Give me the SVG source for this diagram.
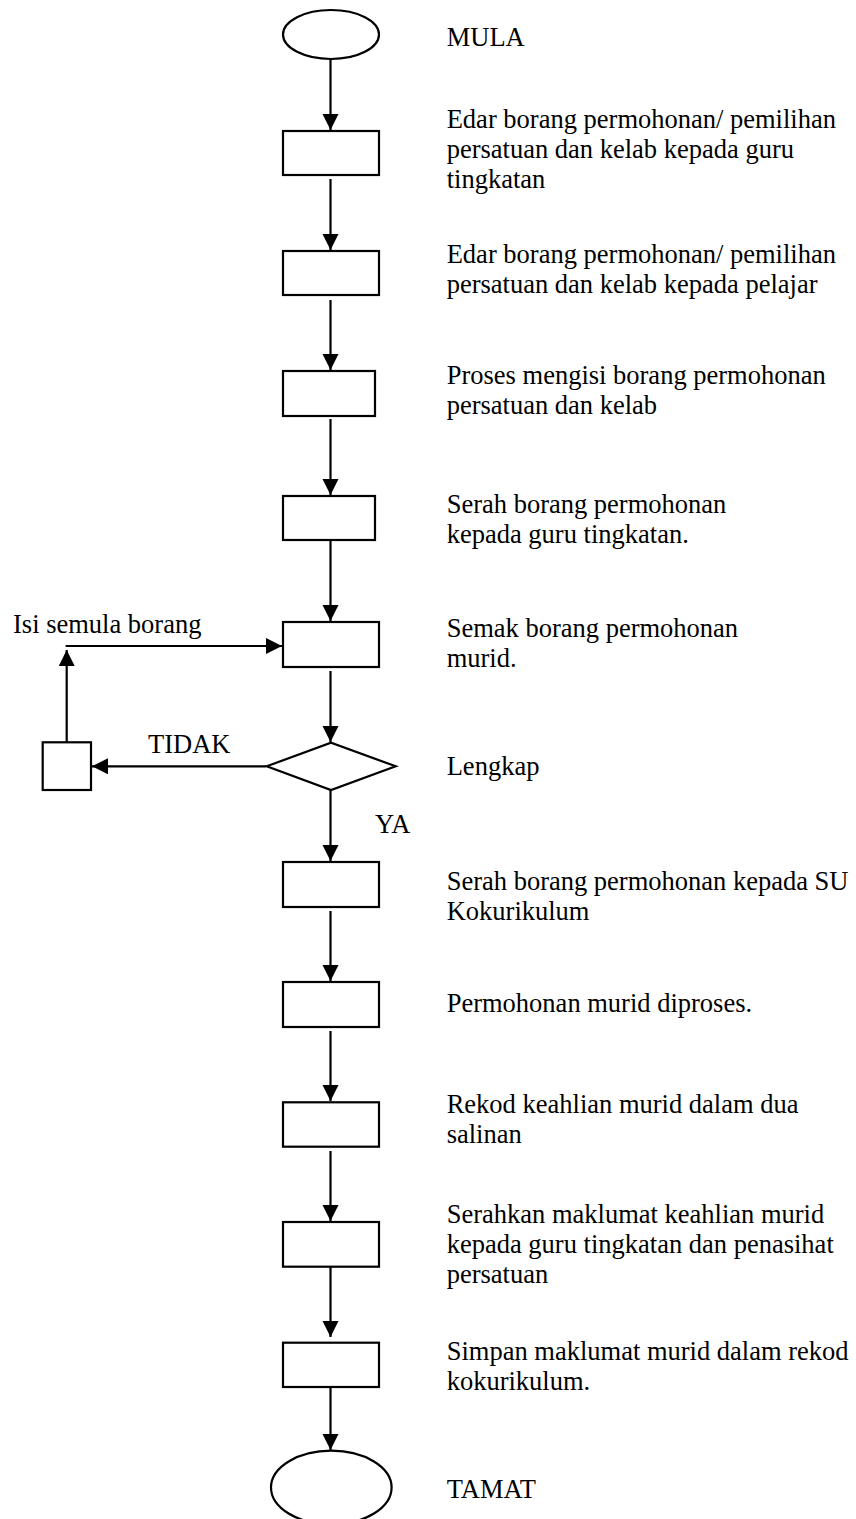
<svg xmlns="http://www.w3.org/2000/svg" width="856" height="1519" viewBox="0 0 856 1519">
  <style>
    .shape { fill: #ffffff; stroke: #000000; stroke-width: 2.2; }
    .link { fill: none; stroke: #000000; stroke-width: 2.2; marker-end: url(#arrow); }
    text { font-family: "Liberation Serif", "Times New Roman", serif; font-size: 26.5px; fill: #000000; }
  </style>
  <defs>
    <marker id="arrow" markerUnits="userSpaceOnUse" markerWidth="17" markerHeight="17" refX="16" refY="8" orient="auto">
      <path d="M0,0 L16,8 L0,16 z" fill="#000000"/>
    </marker>
  </defs>
  <rect width="856" height="1519" fill="#ffffff"/>

  <!-- connectors -->
  <g id="connectors">
    <line class="link" x1="330.5" y1="59" x2="330.5" y2="130"/>
    <line class="link" x1="330.5" y1="179" x2="330.5" y2="250"/>
    <line class="link" x1="330.5" y1="300" x2="330.5" y2="370"/>
    <line class="link" x1="330.5" y1="419" x2="330.5" y2="495"/>
    <line class="link" x1="330.5" y1="534" x2="330.5" y2="621"/>
    <line class="link" x1="330.5" y1="671" x2="330.5" y2="742"/>
    <line class="link" x1="330.5" y1="790" x2="330.5" y2="861"/>
    <line class="link" x1="330.5" y1="911" x2="330.5" y2="981"/>
    <line class="link" x1="330.5" y1="1031" x2="330.5" y2="1101"/>
    <line class="link" x1="330.5" y1="1151" x2="330.5" y2="1221"/>
    <line class="link" x1="330.5" y1="1266" x2="330.5" y2="1337"/>
    <line class="link" x1="330.5" y1="1387" x2="330.5" y2="1450"/>
    <!-- TIDAK branch -->
    <line class="link" x1="266" y1="766.3" x2="92" y2="766.3"/>
    <!-- loop back to the check step -->
    <line class="link" x1="66.7" y1="742" x2="66.7" y2="650"/>
    <line class="link" x1="65.6" y1="646" x2="282" y2="646"/>
  </g>

  <g id="start">
    <ellipse class="shape" cx="331" cy="34.5" rx="48" ry="24.5"/>
    <text x="446.7" y="46">MULA</text>
  </g>

  <g id="step1">
    <rect class="shape" x="283" y="131" width="96" height="44"/>
    <text x="446.7" y="128.3">Edar borang permohonan/ pemilihan</text>
    <text x="446.7" y="158.3">persatuan dan kelab kepada guru</text>
    <text x="446.7" y="188.3">tingkatan</text>
  </g>

  <g id="step2">
    <rect class="shape" x="283" y="251" width="96" height="44"/>
    <text x="446.7" y="263.3">Edar borang permohonan/ pemilihan</text>
    <text x="446.7" y="293.3">persatuan dan kelab kepada pelajar</text>
  </g>

  <g id="step3">
    <rect class="shape" x="283" y="371" width="92" height="45"/>
    <text x="446.7" y="384">Proses mengisi borang permohonan</text>
    <text x="446.7" y="414">persatuan dan kelab</text>
  </g>

  <g id="step4">
    <rect class="shape" x="283" y="496" width="92" height="44"/>
    <text x="446.7" y="513.3">Serah borang permohonan</text>
    <text x="446.7" y="543.3">kepada guru tingkatan.</text>
  </g>

  <g id="step5">
    <rect class="shape" x="283" y="622" width="96" height="45"/>
    <text x="446.7" y="636.7">Semak borang permohonan</text>
    <text x="446.7" y="666.7">murid.</text>
  </g>

  <g id="decision">
    <polygon class="shape" points="266.7,766.3 331,742.7 395.7,766.3 331,790"/>
    <text x="446.7" y="775">Lengkap</text>
    <text x="375" y="833.3">YA</text>
  </g>

  <g id="refill">
    <rect class="shape" x="42.7" y="742.3" width="48.3" height="47.7"/>
    <text x="148" y="753.3">TIDAK</text>
    <text x="13" y="632.7">Isi semula borang</text>
  </g>

  <g id="step6">
    <rect class="shape" x="283" y="862" width="96" height="45"/>
    <text x="446.7" y="890">Serah borang permohonan kepada SU</text>
    <text x="446.7" y="920">Kokurikulum</text>
  </g>

  <g id="step7">
    <rect class="shape" x="283" y="982" width="96" height="45"/>
    <text x="446.7" y="1011.7">Permohonan murid diproses.</text>
  </g>

  <g id="step8">
    <rect class="shape" x="283" y="1102.3" width="96" height="44.4"/>
    <text x="446.7" y="1113.3">Rekod keahlian murid dalam dua</text>
    <text x="446.7" y="1143.3">salinan</text>
  </g>

  <g id="step9">
    <rect class="shape" x="283" y="1222" width="96" height="44.7"/>
    <text x="446.7" y="1222.7">Serahkan maklumat keahlian murid</text>
    <text x="446.7" y="1252.7">kepada guru tingkatan dan penasihat</text>
    <text x="446.7" y="1282.7">persatuan</text>
  </g>

  <g id="step10">
    <rect class="shape" x="283" y="1342.7" width="96" height="44.3"/>
    <text x="446.7" y="1360">Simpan maklumat murid dalam rekod</text>
    <text x="446.7" y="1390">kokurikulum.</text>
  </g>

  <g id="end">
    <ellipse class="shape" cx="331.3" cy="1487.5" rx="60.3" ry="36.8"/>
    <text x="446.7" y="1498">TAMAT</text>
  </g>
</svg>
